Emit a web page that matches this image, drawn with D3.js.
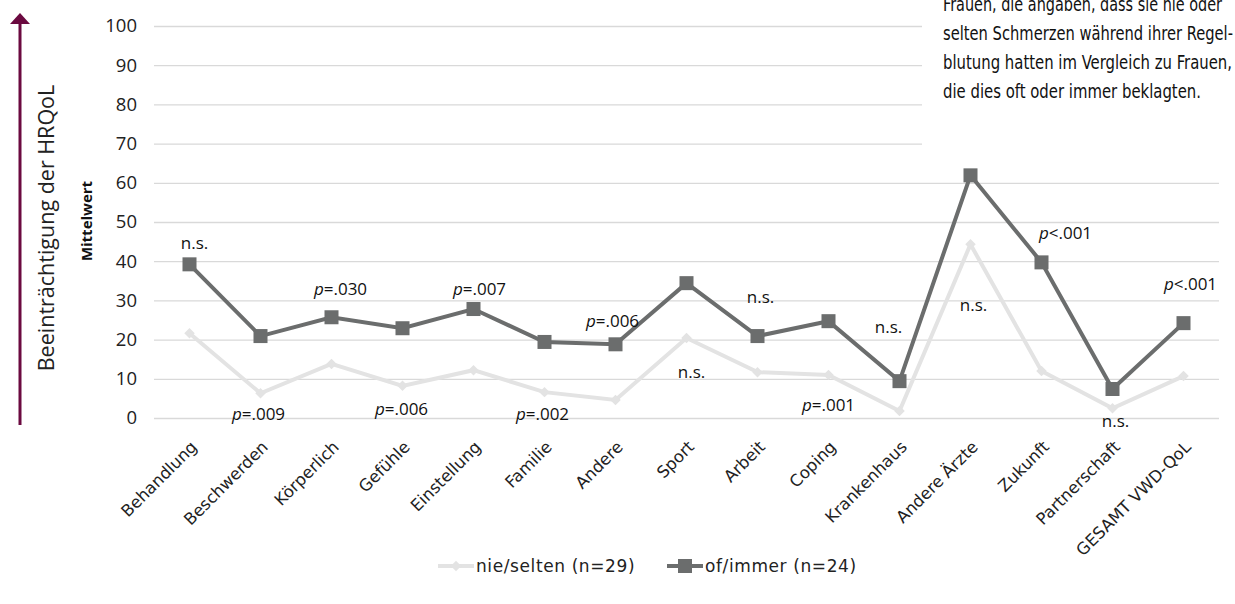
<!DOCTYPE html>
<html>
<head>
<meta charset="utf-8">
<script src="https://cdn.jsdelivr.net/npm/d3@7"></script>
<style>
  body { margin: 0; background: #fff; }
  svg { display: block; }
</style>
</head>
<body>
<div id="chart"></div>
<script>
var categories = ["Behandlung", "Beschwerden", "Körperlich", "Gefühle", "Einstellung", "Familie", "Andere",
  "Sport", "Arbeit", "Coping", "Krankenhaus", "Andere Ärzte", "Zukunft", "Partnerschaft", "GESAMT VWD-QoL"];
var nieSelten = [21.6, 6.3, 13.8, 8.2, 12.2, 6.6, 4.6, 20.4, 11.7, 11.0, 1.8, 44.3, 12.0, 2.5, 10.7];
var oftImmer = [39.2, 20.9, 25.7, 22.9, 27.8, 19.4, 18.8, 34.4, 20.9, 24.7, 9.4, 61.9, 39.7, 7.4, 24.2];
var yTicks = [0, 10, 20, 30, 40, 50, 60, 70, 80, 90, 100];
var seriesNames = ["nie/selten (n=29)", "of/immer (n=24)"];

// p-value notes: category, text, value where the text sits, sideways shift
var notes = [
  {cat: "Behandlung", p: false, txt: "n.s.", at: 44.7, dx: 5},
  {cat: "Beschwerden", p: true, txt: "=.009", at: 0.9, dx: -2},
  {cat: "Körperlich", p: true, txt: "=.030", at: 32.9, dx: 9},
  {cat: "Gefühle", p: true, txt: "=.006", at: 2.4, dx: -1},
  {cat: "Einstellung", p: true, txt: "=.007", at: 32.9, dx: 6},
  {cat: "Familie", p: true, txt: "=.002", at: 0.9, dx: -2},
  {cat: "Andere", p: true, txt: "=.006", at: 24.8, dx: -3},
  {cat: "Sport", p: false, txt: "n.s.", at: 11.6, dx: 5},
  {cat: "Arbeit", p: false, txt: "n.s.", at: 30.9, dx: 3},
  {cat: "Coping", p: true, txt: "=.001", at: 3.4, dx: 0},
  {cat: "Krankenhaus", p: false, txt: "n.s.", at: 23.2, dx: -11},
  {cat: "Andere Ärzte", p: false, txt: "n.s.", at: 28.8, dx: 3},
  {cat: "Zukunft", p: true, txt: "<.001", at: 47.3, dx: 24},
  {cat: "Partnerschaft", p: false, txt: "n.s.", at: -0.8, dx: 3},
  {cat: "GESAMT VWD-QoL", p: true, txt: "<.001", at: 34.2, dx: 7}
];

var noteLines = ["Frauen, die angaben, dass sie nie oder", "selten Schmerzen während ihrer Regel-",
  "blutung hatten im Vergleich zu Frauen,", "die dies oft oder immer beklagten."];

var svgWidth = 1235, svgHeight = 604;
var margin = {top: 26, right: 16, bottom: 186, left: 154};
var width = svgWidth - margin.left - margin.right;
var height = svgHeight - margin.top - margin.bottom;

var svg = d3.select("#chart").append("svg")
  .attr("width", svgWidth)
  .attr("height", svgHeight);

var chartGroup = svg.append("g")
  .attr("transform", `translate(${margin.left}, ${margin.top})`);

var x = d3.scalePoint().domain(categories).range([0, width]).padding(0.5);
var y = d3.scaleLinear().domain([0, 100]).range([height, 0]);

// gridlines
chartGroup.append("g")
  .call(d3.axisLeft(y).tickValues(yTicks).tickSize(-width).tickFormat(""))
  .call(g => g.select(".domain").remove())
  .call(g => g.selectAll("line").attr("stroke", "#d9d9d9").attr("stroke-width", 1.3));

// y tick labels
chartGroup.append("g")
  .call(d3.axisLeft(y).tickValues(yTicks).tickSize(0).tickPadding(17))
  .call(g => g.select(".domain").remove())
  .call(g => g.selectAll("text")
    .attr("font-family", "'Open Sans', sans-serif")
    .attr("font-size", 18.5)
    .attr("fill", "#222"));

// x labels
chartGroup.append("g")
  .attr("transform", `translate(0, ${height})`)
  .call(d3.axisBottom(x).tickSize(0).tickFormat(d => d))
  .call(g => g.select(".domain").remove())
  .call(g => g.selectAll("text")
    .attr("font-family", "'DejaVu Sans', sans-serif")
    .attr("font-size", 16.5)
    .attr("fill", "#222")
    .attr("text-anchor", "end")
    .attr("dy", 0)
    .attr("y", 0)
    .attr("transform", "translate(8, 30) rotate(-45)"));

var line = d3.line().x((d, i) => x(categories[i])).y(d => y(d));

chartGroup.append("path")
  .datum(nieSelten)
  .attr("fill", "none")
  .attr("stroke", "#e3e3e3")
  .attr("stroke-width", 4)
  .attr("d", line);

chartGroup.selectAll(".dia")
  .data(nieSelten)
  .enter()
  .append("path")
  .attr("class", "dia")
  .attr("d", d3.symbol(d3.symbolDiamond2, 70))
  .attr("transform", (d, i) => `translate(${x(categories[i])}, ${y(d)})`)
  .attr("fill", "#e3e3e3");

chartGroup.append("path")
  .datum(oftImmer)
  .attr("fill", "none")
  .attr("stroke", "#6b6d6d")
  .attr("stroke-width", 4)
  .attr("d", line);

chartGroup.selectAll(".sq")
  .data(oftImmer)
  .enter()
  .append("rect")
  .attr("class", "sq")
  .attr("x", (d, i) => x(categories[i]) - 7)
  .attr("y", d => y(d) - 7)
  .attr("width", 14)
  .attr("height", 14)
  .attr("fill", "#6b6d6d");

// p-value notes
var noteText = chartGroup.selectAll(".note")
  .data(notes)
  .enter()
  .append("text")
  .attr("class", "note")
  .attr("x", d => x(d.cat) + d.dx)
  .attr("y", d => y(d.at))
  .attr("dy", "0.35em")
  .attr("text-anchor", "middle")
  .attr("font-family", "'Open Sans', sans-serif")
  .attr("font-size", 17)
  .attr("fill", "#111");

noteText.each(function(d) {
  var t = d3.select(this);
  if (d.p) {
    t.append("tspan").attr("font-style", "italic").text("p");
    t.append("tspan").text(d.txt);
  } else {
    t.text(d.txt);
  }
});

// white box with explanation, top right
svg.append("rect")
  .attr("x", 922).attr("y", 0)
  .attr("width", 313).attr("height", 160)
  .attr("fill", "#fff");

svg.append("g").selectAll("text")
  .data(noteLines)
  .enter()
  .append("text")
  .attr("x", 943)
  .attr("y", (d, i) => 11 + i * 29)
  .attr("font-family", "'Liberation Sans Narrow', 'DejaVu Sans Condensed', sans-serif")
  .attr("font-size", 19)
  .attr("fill", "#111")
  .attr("textLength", (d, i) => [279, 290, 289, 258][i])
  .attr("lengthAdjust", "spacingAndGlyphs")
  .text(d => d);

// purple arrow on the left
var arrowColor = "#6b0a40";
svg.append("line")
  .attr("x1", 20).attr("x2", 20)
  .attr("y1", 425).attr("y2", 22)
  .attr("stroke", arrowColor)
  .attr("stroke-width", 3);
svg.append("path")
  .attr("d", "M10,24 L20,13 L30,24 Z")
  .attr("fill", arrowColor);

svg.append("text")
  .attr("transform", "translate(54, 228) rotate(-90)")
  .attr("text-anchor", "middle")
  .attr("font-family", "'Open Sans', sans-serif")
  .attr("font-size", 21.5)
  .attr("fill", "#222")
  .text("Beeinträchtigung der HRQoL");

svg.append("text")
  .attr("transform", "translate(92, 221) rotate(-90)")
  .attr("text-anchor", "middle")
  .attr("font-family", "'Open Sans', sans-serif")
  .attr("font-weight", "bold")
  .attr("font-size", 15)
  .attr("fill", "#111")
  .text("Mittelwert");

// legend
var legend = svg.append("g").attr("transform", "translate(438, 566)");
var leg0 = legend.append("g");
leg0.append("line").attr("x1", 0).attr("x2", 36).attr("stroke", "#e3e3e3").attr("stroke-width", 4);
leg0.append("path").attr("d", d3.symbol(d3.symbolDiamond2, 70)).attr("transform", "translate(18,0)").attr("fill", "#e3e3e3");
leg0.append("text").attr("x", 38).attr("dy", "0.35em")
  .attr("font-family", "'DejaVu Sans', sans-serif").attr("font-size", 17).attr("letter-spacing", 0.6).attr("fill", "#222")
  .text(seriesNames[0]);

var leg1 = legend.append("g").attr("transform", "translate(229, 0)");
leg1.append("line").attr("x1", 0).attr("x2", 36).attr("stroke", "#6b6d6d").attr("stroke-width", 4);
leg1.append("rect").attr("x", 11).attr("y", -7).attr("width", 14).attr("height", 14).attr("fill", "#6b6d6d");
leg1.append("text").attr("x", 38).attr("dy", "0.35em")
  .attr("font-family", "'DejaVu Sans', sans-serif").attr("font-size", 17).attr("letter-spacing", 0.6).attr("fill", "#222")
  .text(seriesNames[1]);
</script>
</body>
</html>
